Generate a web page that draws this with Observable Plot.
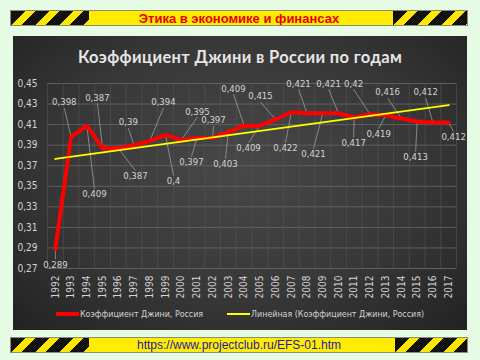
<!DOCTYPE html>
<html><head><meta charset="utf-8">
<script src="https://cdn.jsdelivr.net/npm/d3@7"></script>
<script src="https://cdn.jsdelivr.net/npm/@observablehq/plot@0.6"></script>
<style>
html,body{margin:0;padding:0;}
body{width:480px;height:360px;background:#e6fbe4;position:relative;overflow:hidden;font-family:"Liberation Sans",Arial,sans-serif;}
.banner{position:absolute;left:10px;width:458px;height:16px;background:#ffec00;border:1px solid #8c8c78;box-sizing:border-box;overflow:hidden;}
.haz{position:absolute;top:0;bottom:0;background:repeating-linear-gradient(135deg,#111 0 10px,#ffe800 10px 17px);}
.btext{position:absolute;left:0;right:0;top:0;bottom:0;display:flex;align-items:center;justify-content:center;white-space:nowrap;}
#top .btext{color:#e60000;font-weight:bold;font-size:13px;}
#bot .btext{color:#1c1ca8;font-size:12px;}
#panel{position:absolute;left:13px;top:36px;width:454px;height:294px;background:radial-gradient(ellipse at 50% 45%,#484848 0%,#383838 55%,#222 100%);}
#title{position:absolute;left:0;right:0;top:11px;text-align:center;color:#e6e6e6;font-family:Lato,"Open Sans",sans-serif;font-weight:bold;font-size:16.5px;letter-spacing:0.35px;white-space:nowrap;}
#chart{position:absolute;left:0;top:36px;}
#legend{position:absolute;left:0;right:0;top:271px;display:flex;justify-content:center;align-items:center;color:#d4d4d4;font-family:"DejaVu Sans Condensed",sans-serif;font-size:8.8px;white-space:nowrap;line-height:14px;}
.sw{display:inline-block;width:23px;margin-right:1px;}
</style>
</head><body>
<div class="banner" id="top" style="top:10px;">
  <div class="haz" style="left:0;width:78px;"></div>
  <div class="haz" style="right:0;width:74px;"></div>
  <div class="btext">Этика в экономике и финансах</div>
</div>
<div id="panel">
  <div id="title">Коэффициент Джини в России по годам</div>
  <div id="chart"></div>
  <div id="legend">
    <span class="sw" style="height:4px;background:#ff0000;"></span><span>Коэффициент Джини, Россия</span>
    <span class="sw" style="height:2px;background:#ffff00;margin-left:24px;"></span><span>Линейная (Коэффициент Джини, Россия)</span>
  </div>
</div>
<div class="banner" id="bot" style="top:337px;">
  <div class="haz" style="left:0;width:78px;"></div>
  <div class="haz" style="right:0;width:72px;"></div>
  <div class="btext">https://www.projectclub.ru/EFS-01.htm</div>
</div>
<script>
const years = [1992,1993,1994,1995,1996,1997,1998,1999,2000,2001,2002,2003,2004,2005,2006,2007,2008,2009,2010,2011,2012,2013,2014,2015,2016,2017];
const gini = [0.289,0.398,0.409,0.387,0.387,0.39,0.394,0.4,0.395,0.397,0.397,0.403,0.409,0.409,0.415,0.422,0.421,0.421,0.421,0.417,0.42,0.419,0.416,0.413,0.412,0.412];
const yTicks = [0.27,0.29,0.31,0.33,0.35,0.37,0.39,0.41,0.43,0.45];
// data-label placement (in data units)
const labelYear = [1992.0,1992.57,1994.48,1994.67,1997.09,1996.64,1998.87,1999.51,2001.03,2000.65,2002.05,2002.81,2003.32,2004.28,2005.04,2006.63,2007.46,2008.41,2009.37,2010.96,2010.96,2012.55,2013.12,2014.9,2015.54,2017.32];
const labelValue = [0.2733,0.4316,0.3422,0.4364,0.3597,0.4121,0.4316,0.3549,0.4228,0.3733,0.4141,0.3714,0.4451,0.3869,0.4374,0.3869,0.45,0.3811,0.45,0.3917,0.45,0.4005,0.4413,0.3782,0.4413,0.3976];

const data = years.map((y,i)=>({year:y, gini:gini[i], lx:labelYear[i], ly:labelValue[i]}));
const comma = v => String(v).replace(".", ",");
const gridX = [years[0]-0.5, ...years.map(y=>y+0.5)];
const font = '"DejaVu Sans Condensed",sans-serif';

const chart = Plot.plot({
  width: 454, height: 232,
  marginTop: 11, marginBottom: 36, marginLeft: 34, marginRight: 11,
  style: {background:"transparent", color:"#d4d4d4", fontFamily:font, fontSize:"10px"},
  x: {domain:[1991.5, 2017.5], ticks: years, tickFormat: d=>String(d), tickRotate: -90, tickSize: 0, tickPadding: 7, label: null},
  y: {domain:[0.27, 0.45], ticks: yTicks, tickFormat: d=>d.toFixed(2).replace(".", ","), tickSize: 0, tickPadding: 10, label: null},
  marks: [
    Plot.ruleY(yTicks, {stroke:"#6a6a6a", strokeWidth:0.8}),
    Plot.ruleX(gridX, {stroke:"#555", strokeWidth:0.6}),
    Plot.link(data, {x1:"year", y1:"gini", x2:"lx", y2: d => d.ly + (d.ly > d.gini ? -0.0055 : 0.0055), stroke:"#a8a8a8", strokeWidth:0.7}),
    Plot.line(data, {x:"year", y:"gini", stroke:"#ff0000", strokeWidth:4, strokeLinejoin:"round"}),
    Plot.linearRegressionY(data, {x:"year", y:"gini", stroke:"#ffff00", strokeWidth:2, ci:0}),
    Plot.text(data, {x:"lx", y:"ly", text: d=>comma(d.gini), fill:"#d4d4d4", fontSize: 9.5})
  ]
});
document.getElementById("chart").appendChild(chart);
</script>
</body></html>
